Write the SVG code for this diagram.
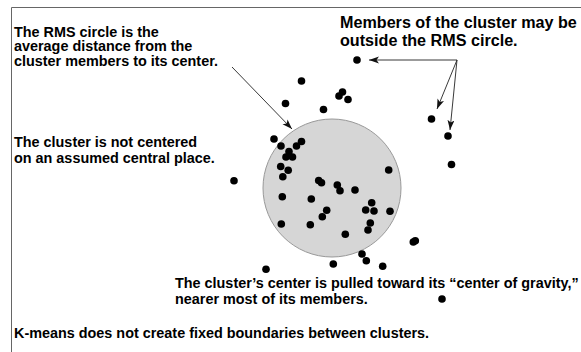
<svg xmlns="http://www.w3.org/2000/svg" width="581" height="352" viewBox="0 0 581 352">
<style>
.t{font-family:"Liberation Sans",Arial,sans-serif;font-weight:bold;font-size:14.4px;fill:#000}
.big{font-size:16.15px}
.d{fill:#000}
.c{stroke:#222;stroke-width:0.9;fill:none;marker-end:url(#ah)}
.frame{stroke:#666;stroke-width:1;fill:none}
</style>
<defs>
<marker id="ah" markerUnits="userSpaceOnUse" markerWidth="11" markerHeight="8" refX="10" refY="3.5" orient="auto">
<path d="M0,0 L10,3.5 L0,7 L2.5,3.5 z" fill="#111"/>
</marker>
</defs>
<rect width="581" height="352" fill="#fff"/>
<path class="frame" d="M11.5,352 V7.5 H581"/>
<g id="rms-circle">
<circle cx="332" cy="188" r="69" fill="#d6d6d6" stroke="#999" stroke-width="1"/>
</g>
<g id="points" class="d">
<circle cx="357" cy="60" r="3.8"/>
<circle cx="301.5" cy="81" r="3.8"/>
<circle cx="342.5" cy="92" r="3.8"/>
<circle cx="339" cy="96" r="3.8"/>
<circle cx="348" cy="99.5" r="3.8"/>
<circle cx="285.5" cy="103.5" r="3.8"/>
<circle cx="323.5" cy="109.5" r="3.8"/>
<circle cx="431.5" cy="119" r="3.8"/>
<circle cx="448" cy="136" r="3.8"/>
<circle cx="451.5" cy="164.5" r="3.8"/>
<circle cx="274" cy="139" r="3.8"/>
<circle cx="281" cy="146" r="3.8"/>
<circle cx="301.5" cy="141.5" r="3.8"/>
<circle cx="296.5" cy="146" r="3.8"/>
<circle cx="289" cy="151.5" r="3.8"/>
<circle cx="286" cy="157" r="3.8"/>
<circle cx="292.5" cy="157" r="3.8"/>
<circle cx="280.7" cy="166.5" r="3.8"/>
<circle cx="288.2" cy="170.3" r="3.8"/>
<circle cx="282.8" cy="176.7" r="3.8"/>
<circle cx="388.7" cy="170" r="3.8"/>
<circle cx="234" cy="180.7" r="3.8"/>
<circle cx="318.7" cy="180.5" r="3.8"/>
<circle cx="321.5" cy="182.7" r="3.8"/>
<circle cx="337.3" cy="185" r="3.8"/>
<circle cx="340" cy="190.7" r="3.8"/>
<circle cx="355" cy="190" r="3.8"/>
<circle cx="282.3" cy="196.7" r="3.8"/>
<circle cx="311.3" cy="199" r="3.8"/>
<circle cx="371.7" cy="202.7" r="3.8"/>
<circle cx="365.7" cy="210" r="3.8"/>
<circle cx="374" cy="211" r="3.8"/>
<circle cx="390" cy="211.3" r="3.8"/>
<circle cx="326.7" cy="210.3" r="3.8"/>
<circle cx="322.3" cy="216.7" r="3.8"/>
<circle cx="281.3" cy="224" r="3.8"/>
<circle cx="310.3" cy="224.7" r="3.8"/>
<circle cx="370.3" cy="223" r="3.8"/>
<circle cx="368" cy="230" r="3.8"/>
<circle cx="345.3" cy="234.3" r="3.8"/>
<circle cx="415.3" cy="240.7" r="3.8"/>
<circle cx="413.3" cy="242" r="3.8"/>
<circle cx="362" cy="254" r="3.8"/>
<circle cx="366.3" cy="260.7" r="3.8"/>
<circle cx="333.3" cy="264" r="3.8"/>
<circle cx="382.7" cy="266.3" r="3.8"/>
<circle cx="266" cy="269.3" r="3.8"/>
<circle cx="442" cy="299" r="3.8"/>
</g>
<g id="connectors">
<line class="c" x1="232" y1="67" x2="292" y2="129"/>
<line class="c" x1="457" y1="60" x2="369" y2="60"/>
<line class="c" x1="457" y1="60" x2="437" y2="109"/>
<line class="c" x1="457" y1="60" x2="450" y2="130"/>
</g>
<g id="label-rms">
<text class="t" x="14" y="36.5">The RMS circle is the</text>
<text class="t" x="14" y="51">average distance from the</text>
<text class="t" x="14" y="65.5">cluster members to its center.</text>
</g>
<g id="label-members">
<text class="t big" x="340" y="28">Members of the cluster may be</text>
<text class="t big" x="340" y="45.5">outside the RMS circle.</text>
</g>
<g id="label-not-centered">
<text class="t" x="14" y="147">The cluster is not centered</text>
<text class="t" x="14" y="163">on an assumed central place.</text>
</g>
<g id="label-center">
<text class="t" x="175" y="288">The cluster’s center is pulled toward its “center of gravity,”</text>
<text class="t" x="175" y="304">nearer most of its members.</text>
</g>
<g id="label-kmeans">
<text class="t" x="14" y="337.5">K-means does not create fixed boundaries between clusters.</text>
</g>
</svg>
